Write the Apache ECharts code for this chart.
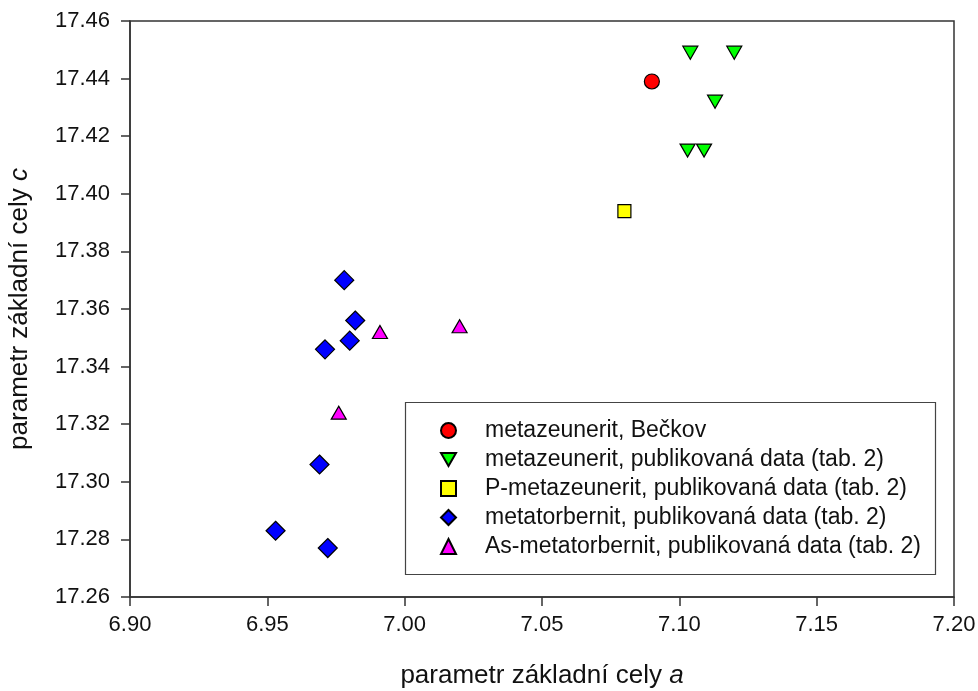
<!DOCTYPE html>
<html><head><meta charset="utf-8">
<script src="https://cdn.jsdelivr.net/npm/echarts@6/dist/echarts.min.js"></script>
<style>html,body{margin:0;padding:0;background:#fff}#c{width:978px;height:691px}</style>
</head><body><div id="c"></div>
<script>
const seriesNames = [
  'metazeunerit, Bečkov',
  'metazeunerit, publikovaná data (tab. 2)',
  'P-metazeunerit, publikovaná data (tab. 2)',
  'metatorbernit, publikovaná data (tab. 2)',
  'As-metatorbernit, publikovaná data (tab. 2)'
];
const beckov = [[7.090, 17.439]];
const metazeuneritPub = [[7.104, 17.449], [7.120, 17.449], [7.113, 17.432], [7.103, 17.415], [7.109, 17.415]];
const pMetazeunerit = [[7.080, 17.394]];
const metatorbernit = [[6.978, 17.370], [6.982, 17.356], [6.980, 17.349], [6.971, 17.346], [6.969, 17.306], [6.953, 17.283], [6.972, 17.277]];
const asMetatorbernit = [[6.991, 17.352], [7.020, 17.354], [6.976, 17.324]];
const xTicks = {min: 6.90, max: 7.20, interval: 0.05};
const yTicks = {min: 17.26, max: 17.46, interval: 0.02};

const triDown = 'path://M0,0 L10,0 L5,8.66 Z';
const border = {borderColor: '#000', borderWidth: 1.2, opacity: 1};
const font = 'Liberation Sans, Arial, sans-serif';

const chart = echarts.init(document.getElementById('c'));
chart.setOption({
  animation: false,
  backgroundColor: '#fff',
  grid: {left: 130, right: 24, top: 21, bottom: 94, show: true, borderColor: '#333', borderWidth: 1.5, containLabel: false, outerBoundsMode: 'none'},
  graphic: [{type: 'rect', left: 403, top: 400, shape: {width: 530, height: 172}, style: {fill: 'none', stroke: '#444', lineWidth: 1.2}, z: 10}],
  legend: {
    orient: 'vertical', left: 440, top: 419, padding: 0, itemGap: 6,
    itemWidth: 15, itemHeight: 15,
    textStyle: {fontFamily: font, fontSize: 23, color: '#111', lineHeight: 23, padding: [0, 0, 0, 24]},
    data: seriesNames
  },
  xAxis: {
    type: 'value', min: xTicks.min, max: xTicks.max, interval: xTicks.interval,
    name: 'parametr základní cely {i|a}', nameLocation: 'middle', nameGap: 66,
    nameTextStyle: {fontFamily: font, fontSize: 26, color: '#111', rich: {i: {fontFamily: font, fontSize: 26, fontStyle: 'italic', color: '#111'}}},
    axisLine: {lineStyle: {color: '#333', width: 1.5}},
    axisTick: {inside: false, length: 9, lineStyle: {color: '#333', width: 1.5}},
    axisLabel: {fontFamily: font, fontSize: 22, color: '#111', margin: 17, formatter: v => v.toFixed(2)},
    splitLine: {show: false}
  },
  yAxis: {
    type: 'value', min: yTicks.min, max: yTicks.max, interval: yTicks.interval,
    name: 'parametr základní cely {i|c}', nameLocation: 'middle', nameGap: 97, nameRotate: 90,
    nameTextStyle: {fontFamily: font, fontSize: 26, color: '#111', rich: {i: {fontFamily: font, fontSize: 26, fontStyle: 'italic', color: '#111'}}},
    axisLine: {lineStyle: {color: '#333', width: 1.5}},
    axisTick: {inside: false, length: 9, lineStyle: {color: '#333', width: 1.5}},
    axisLabel: {fontFamily: font, fontSize: 22, color: '#111', margin: 20, formatter: v => v.toFixed(2)},
    splitLine: {show: false}
  },
  series: [
    {name: seriesNames[0], type: 'scatter', data: beckov, symbol: 'circle', symbolSize: 15, itemStyle: Object.assign({color: '#ff0000'}, border)},
    {name: seriesNames[1], type: 'scatter', data: metazeuneritPub, symbol: triDown, symbolSize: [15, 13], itemStyle: Object.assign({color: '#00ff00'}, border)},
    {name: seriesNames[2], type: 'scatter', data: pMetazeunerit, symbol: 'rect', symbolSize: 13, itemStyle: Object.assign({color: '#ffff00'}, border)},
    {name: seriesNames[3], type: 'scatter', data: metatorbernit, symbol: 'diamond', symbolSize: 19, itemStyle: Object.assign({color: '#0000ff'}, border)},
    {name: seriesNames[4], type: 'scatter', data: asMetatorbernit, symbol: 'triangle', symbolSize: [15, 13], itemStyle: Object.assign({color: '#ff00ff'}, border)}
  ]
});
</script></body></html>
